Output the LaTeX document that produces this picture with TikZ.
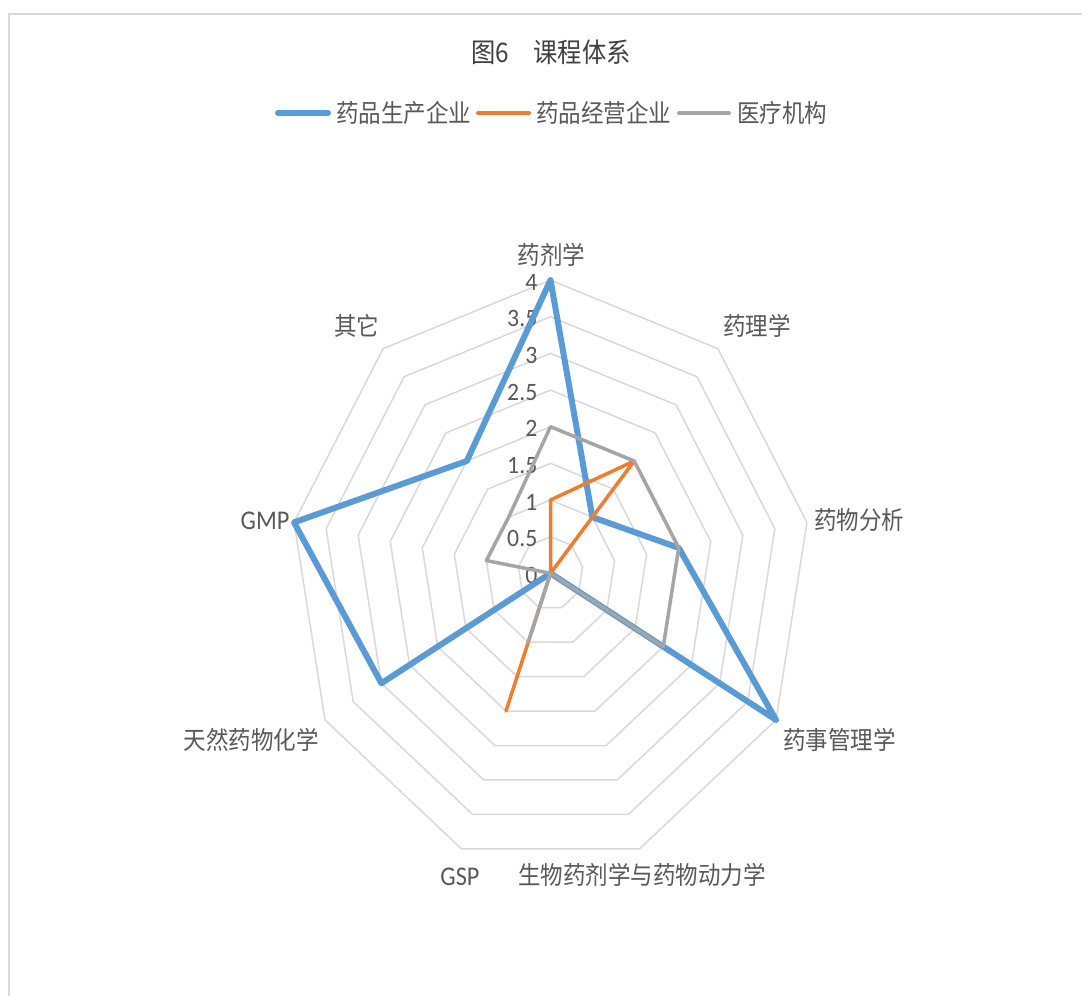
\documentclass[tikz,border=0pt]{standalone}
\usepackage{fontspec}
\usepackage{graphicx}
\newfontfamily\cjk[FakeStretch=0.9]{Noto Sans CJK SC}
\newfontfamily\latn[FakeStretch=0.9]{Carlito}
\newfontfamily\latt[FakeStretch=0.95]{Carlito}
\definecolor{ringc}{HTML}{D9D9D9}
\definecolor{framec}{HTML}{D9D9D9}
\definecolor{serA}{HTML}{5B9BD5}
\definecolor{serB}{HTML}{ED7D31}
\definecolor{serC}{HTML}{A5A5A5}
\definecolor{labc}{HTML}{595959}
\definecolor{titc}{HTML}{404040}
\tikzset{
  ring/.style={draw=ringc, line width=1.5bp},
  series/.style={line join=round, line cap=round},
  lab/.style={font=\cjk\fontsize{25bp}{30bp}\selectfont, text=labc, inner sep=0pt, anchor=center},
  labl/.style={font=\latn\fontsize{27bp}{32bp}\selectfont, text=labc, inner sep=0pt, anchor=center},
  tick/.style={font=\latt\fontsize{25bp}{28bp}\selectfont, text=labc, inner sep=0pt, anchor=east},
  legtext/.style={font=\cjk\fontsize{25bp}{30bp}\selectfont, text=labc, inner sep=0pt, anchor=west},
  titlestyle/.style={font=\cjk\fontsize{27bp}{32bp}\selectfont, text=titc, inner sep=0pt, anchor=center}
}
\begin{document}
\begin{tikzpicture}[x=1bp,y=-1bp]
\useasboundingbox (0,0) rectangle (1082,996);
\fill[white] (0,0) rectangle (1082,996);
% chart frame (partly visible)
\draw[framec, line width=2bp] (9,996) -- (9,14) -- (1082,14);

% title
\node[titlestyle] (title) at (551,52) {图6　课程体系};

% legend
\draw[serA, line width=6bp, line cap=round] (278,113) -- (328,113);
\node[legtext] (lg1) at (336,113) {药品生产企业};
\draw[serB, line width=4bp, line cap=round] (478,113) -- (529,113);
\node[legtext] (lg2) at (536,113) {药品经营企业};
\draw[serC, line width=4bp, line cap=round] (679,113) -- (729,113);
\node[legtext] (lg3) at (737,113) {医疗机构};

% radar
\begin{scope}[shift={(550.5,573.3)}, x=65.1bp, y=73.3bp]
  \foreach \r in {0.5,1,...,4}{
    \draw[ring] (90:\r) \foreach \k in {1,...,8}{ -- ({90-40*\k}:\r) } -- cycle;
  }
  \foreach \r/\t [count=\i] in {0/0,0.5/0.5,1/1,1.5/1.5,2/2,2.5/2.5,3/3,3.5/3.5,4/4}{
    \node[tick, xshift=-13bp, yshift=-2bp] (t\i) at (90:\r) {\t};
  }
  % series
  \draw[series, serA, line width=6bp]
    (90:4) -- (50:1) -- (10:2) -- (-30:4) -- (-70:0) -- (-110:0) -- (-150:3) -- (170:4) -- (130:2) -- cycle;
  \draw[series, serB, line width=3.5bp]
    (90:1) -- (50:2) -- (10:0) -- (-30:0) -- (-70:0) -- (-110:2) -- (-150:0) -- (170:0) -- (130:0) -- cycle;
  \draw[series, serC, line width=3.5bp]
    (90:2) -- (50:2) -- (10:2) -- (-30:2) -- (-70:0) -- (-110:1) -- (-150:0) -- (170:1) -- (130:1) -- cycle;
\end{scope}

% axis labels
\node[lab] (a0) at (551.5,255) {药剂学};
\node[lab] (a1) at (757,326) {药理学};
\node[lab] (a2) at (859,520.5) {药物分析};
\node[lab] (a3) at (839.5,740) {药事管理学};
\node[lab] (a4) at (642,874.5) {生物药剂学与药物动力学};
\node[labl] (a5) at (460,877) {GSP};
\node[lab] (a6) at (251,740) {天然药物化学};
\node[labl] (a7) at (265,521) {GMP};
\node[lab] (a8) at (356.5,326) {其它};
\end{tikzpicture}
\end{document}
